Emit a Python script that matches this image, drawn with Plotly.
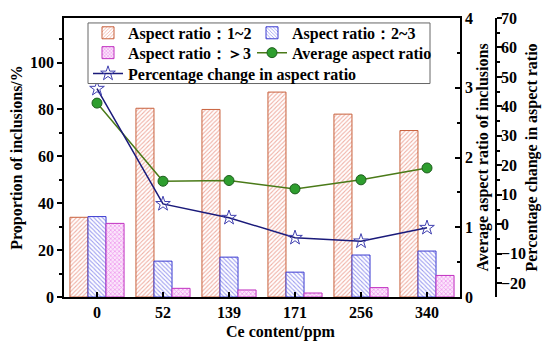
import plotly.graph_objects as go

categories = ["0", "52", "139", "171", "256", "340"]
ratio_1_2 = [34.0, 80.5, 80.0, 87.4, 78.0, 71.0]
ratio_2_3 = [34.3, 15.3, 17.0, 10.6, 17.9, 19.6]
ratio_gt3 = [31.4, 3.7, 3.0, 1.7, 4.0, 9.2]
avg_ratio = [2.78, 1.66, 1.67, 1.55, 1.68, 1.85]
pct_change = [46.0, 6.9, 2.2, -4.6, -5.8, -1.2]

names = ["Aspect ratio：1~2", "Aspect ratio：2~3", "Aspect ratio：＞3",
         "Average aspect ratio", "Percentage change in aspect ratio"]

FONT = "Liberation Serif, Times New Roman, serif"
TICKFONT = dict(family=FONT, size=16, color="black", weight="bold")

# page geometry (the page body adds an 8px offset)
OFF = 8
PL, PR, PT, PB = 64, 496, 16, 297     # plot-area edges in page pixels
W, H = 550 - OFF, 348 - OFF


def px(x):
    return (x - PL) / (PR - PL)


def py(y):
    return (PB - y) / (PB - PT)


fig = go.Figure()
fig.add_trace(go.Bar(
    x=categories, y=ratio_1_2, name=names[0], legend="legend",
    marker=dict(color="white", line=dict(color="#C8603C", width=1),
                pattern=dict(shape="/", fgcolor="#E0604A", bgcolor="white", size=3, solidity=0.35)),
))
fig.add_trace(go.Bar(
    x=categories, y=ratio_2_3, name=names[1], legend="legend2",
    marker=dict(color="white", line=dict(color="#3A3AD0", width=1),
                pattern=dict(shape="\\", fgcolor="#3A3AE0", bgcolor="white", size=3, solidity=0.35)),
))
fig.add_trace(go.Bar(
    x=categories, y=ratio_gt3, name=names[2], legend="legend3",
    marker=dict(color="white", line=dict(color="#C030C0", width=1),
                pattern=dict(shape="x", fgcolor="#E040E0", bgcolor="#FBE6FB", size=3, solidity=0.4)),
))
fig.add_trace(go.Scatter(
    x=categories, y=avg_ratio, name=names[3], yaxis="y2", mode="lines+markers", legend="legend4",
    line=dict(color="#4A7A18", width=1.5),
    marker=dict(symbol="circle", size=10, color="#2E9E2E", line=dict(color="#1E5E1E", width=1)),
))
fig.add_trace(go.Scatter(
    x=categories, y=pct_change, name=names[4], yaxis="y3", mode="lines+markers", legend="legend5",
    line=dict(color="#1A1A7A", width=1.5),
    marker=dict(symbol="star-open", size=11, color="#4040B0", line=dict(width=1)),
))

axis_common = dict(showline=True, linecolor="black", linewidth=1.5, ticks="outside",
                   ticklen=5, tickwidth=1.5, tickcolor="black", showgrid=False,
                   zeroline=False, automargin=False, tickfont=TICKFONT)

TFONT = dict(family=FONT, size=16, color="black", weight="bold")
LFONT = dict(family=FONT, size=16, color="black", weight="bold")


def leg(x, y):
    return dict(x=px(x), y=py(y), xanchor="left", yanchor="middle",
                bgcolor="rgba(0,0,0,0)", borderwidth=0, font=LFONT,
                itemwidth=30, orientation="v")


fig.update_layout(
    width=W, height=H,
    margin=dict(l=PL - OFF, r=W - (PR - OFF), t=PT - OFF, b=H - (PB - OFF)),
    paper_bgcolor="white", plot_bgcolor="white",
    font=dict(family=FONT, size=16, color="black", weight="bold"),
    barmode="group", bargap=0.18, bargroupgap=0,
    xaxis=dict(domain=[0, px(460)], type="category", mirror=True, automargin=False,
               showline=True, linecolor="black", linewidth=1.5,
               ticks="inside", ticklen=5, tickwidth=1.5, tickcolor="black",
               range=[-0.5, 5.5], tickfont=TICKFONT),
    yaxis=dict(**axis_common, range=[0, 119], tickvals=[0, 20, 40, 60, 80, 100],
               minor=dict(ticks="outside", ticklen=3, tickcolor="black", dtick=10, tick0=0),
               title=dict(text="Proportion of inclusions/%", standoff=6, font=TFONT)),
    yaxis2=dict(showline=True, linecolor="black", linewidth=1.5, ticks="inside",
                ticklen=5, tickwidth=1.5, tickcolor="black", showgrid=False, zeroline=False,
                automargin=False, tickfont=TICKFONT,
                overlaying="y", side="right", anchor="x", range=[0, 4],
                tickvals=[0, 1, 2, 3, 4],
                minor=dict(ticks="inside", ticklen=3, tickcolor="black", dtick=0.5, tick0=0)),
    yaxis3=dict(**axis_common, overlaying="y", side="right", anchor="free", position=1,
                range=[-24.7, 70], tickvals=[-20, -10, 0, 10, 20, 30, 40, 50, 60, 70],
                minor=dict(ticks="outside", ticklen=3, tickcolor="black", dtick=5, tick0=0),
                ticklabelstandoff=-4),
    legend=leg(88, 31),
    legend2=leg(252, 31),
    legend3=leg(88, 51),
    legend4=leg(252, 51),
    legend5=leg(88, 72),
    showlegend=True,
    shapes=[dict(type="rect", xref="paper", yref="paper",
                 x0=px(88), x1=px(430), y0=py(82), y1=py(21),
                 line=dict(color="#666666", width=1), fillcolor="white", layer="above")],
    annotations=[
        dict(text="Ce content/ppm", xref="paper", yref="paper",
             x=px(281), y=py(332), showarrow=False,
             xanchor="center", yanchor="middle", font=TFONT),
        dict(text="Average aspect ratio of inclusions", xref="paper", yref="paper",
             x=px(482), y=0.5, textangle=-90, showarrow=False,
             xanchor="center", yanchor="middle", font=TFONT),
        dict(text="Percentage change in aspect ratio", xref="paper", yref="paper",
             x=px(531), y=0.5, textangle=-90, showarrow=False,
             xanchor="center", yanchor="middle", font=TFONT),
    ],
)

fig.write_html("out.html")
